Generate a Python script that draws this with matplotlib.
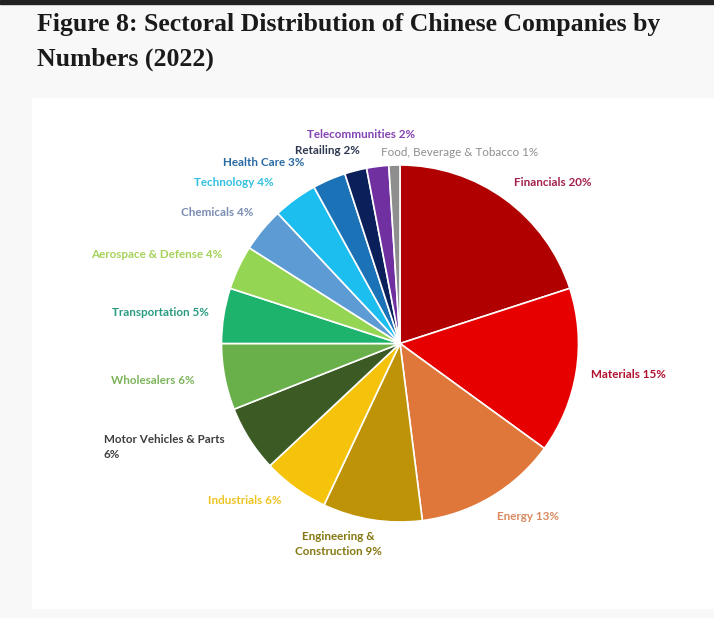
import matplotlib
matplotlib.use('Agg')
import matplotlib.pyplot as plt
from matplotlib.patches import Rectangle

# sector shares (%), clockwise from 12 o'clock
sectors = ["Financials", "Materials", "Energy", "Engineering &\nConstruction",
           "Industrials", "Motor Vehicles & Parts\n", "Wholesalers", "Transportation",
           "Aerospace & Defense", "Chemicals", "Technology", "Health Care",
           "Retailing", "Telecommunities", "Food, Beverage & Tobacco"]
shares = [20, 15, 13, 9, 6, 6, 6, 5, 4, 4, 4, 3, 2, 2, 1]

slice_colors = ["#b00000", "#e60000", "#e0773a", "#bf9308", "#f5c30c",
                "#3b5a24", "#6ab04a", "#1db36c", "#94d653", "#5c9bd4",
                "#1cbdef", "#1b72b6", "#0b1f5a", "#7030a0", "#8e8e8e"]
label_colors = ["#a3214a", "#b0102e", "#d98a60", "#857812", "#eec420",
                "#3e3e3e", "#7cb35a", "#2a9a82", "#a6d25a", "#7a8cb2",
                "#33c0e2", "#2a6aa2", "#2e3850", "#8442b2", "#8e8e8e"]

# label anchor points in pixels (x, y from top)
label_pos = [(553, 183), (628, 375), (528, 517), (338, 544), (245, 501),
             (104, 447), (153, 380), (160, 313), (157, 254), (217, 213),
             (234, 183), (264, 163), (327, 151), (361, 135), (460, 153)]

W, H = 714, 618
fig = plt.figure(figsize=(W / 100, H / 100), dpi=100)
fig.patch.set_facecolor("#f8f8f8")
ax = fig.add_axes([0, 0, 1, 1])

# dark strip at the very top and the white chart panel
ax.add_patch(Rectangle((0, H - 4), W, 4, color="#222222", zorder=0))
ax.add_patch(Rectangle((32, H - 608), W - 32, 510, color="white", zorder=0))

cx, cy, r = 400, H - 343.5, 178.5
ax.pie(shares, colors=slice_colors, startangle=90, counterclock=False,
       center=(cx, cy), radius=r, frame=True,
       wedgeprops=dict(edgecolor="white", linewidth=1.2))
ax.set_xlim(0, W)
ax.set_ylim(0, H)
ax.axis("off")

for i, (name, val) in enumerate(zip(sectors, shares)):
    px, py = label_pos[i]
    if name.endswith("\n"):
        txt = name + f"{val}%"
        ha = "left"
    else:
        txt = f"{name} {val}%"
        ha = "center"
    weight = "normal" if i == len(sectors) - 1 else "bold"
    ax.text(px, H - py, txt, ha=ha, va="center", fontsize=8.4, color=label_colors[i],
            fontweight=weight, family="Lato", linespacing=1.55,
            multialignment="center" if ha == "center" else "left")

fig.text(37 / W, 1 - 13 / H, "Figure 8: Sectoral Distribution of Chinese Companies by\nNumbers (2022)",
         ha="left", va="top", fontsize=18.5, fontweight="bold", family="Liberation Serif",
         color="#1a1a1a", linespacing=1.65)

fig.savefig("out.png", dpi=100, facecolor=fig.get_facecolor())
plt.close(fig)
